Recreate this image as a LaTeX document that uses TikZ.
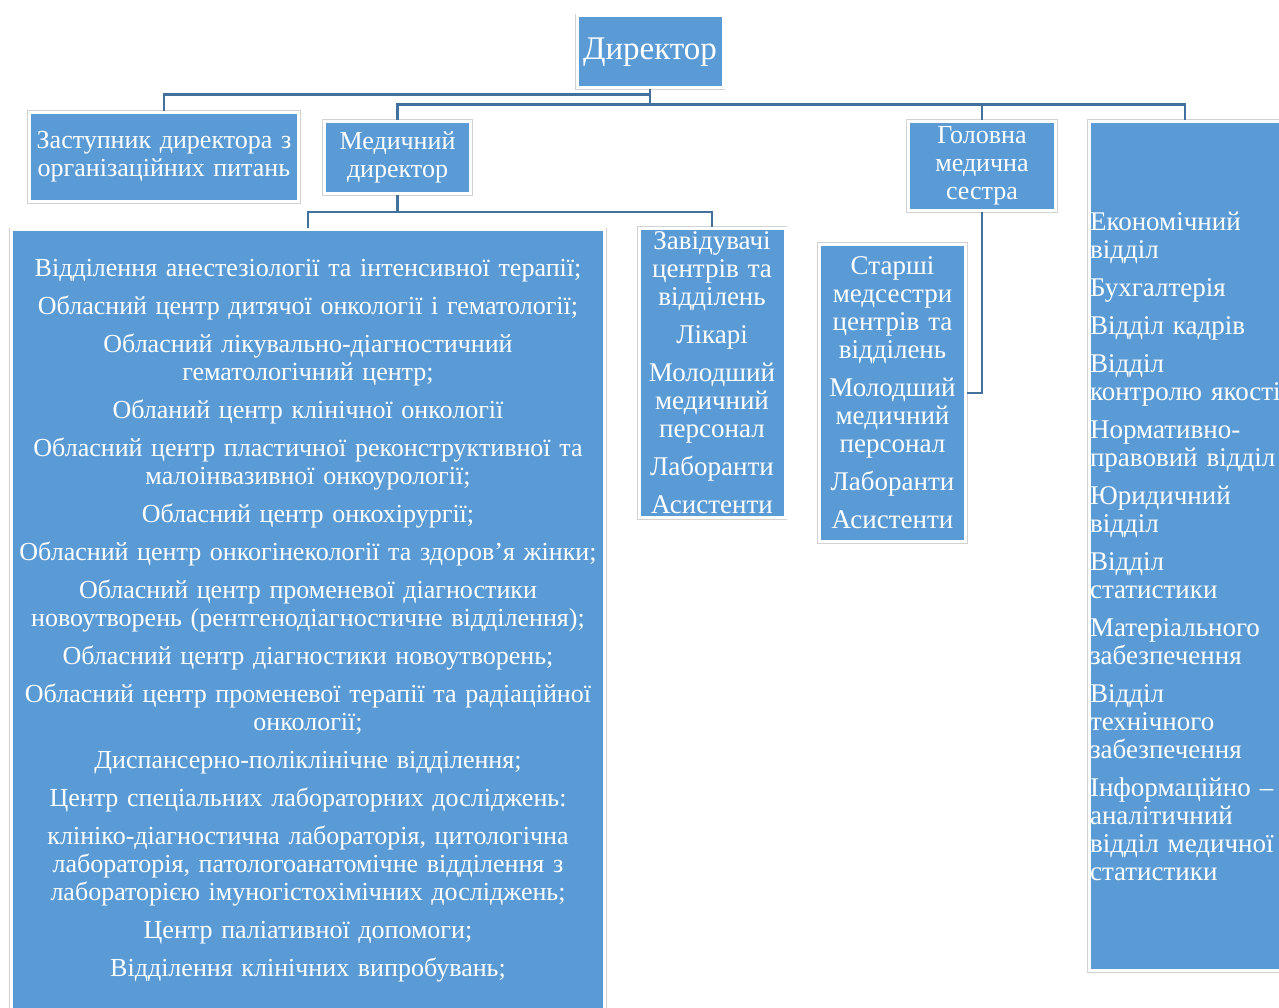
\documentclass[tikz,border=0pt]{standalone}
\usepackage{fontspec}
\setmainfont{Liberation Serif}
\definecolor{boxblau}{HTML}{5B9BD5}
\definecolor{linienblau}{HTML}{41719C}

\begin{document}
\begin{tikzpicture}[x=1pt,y=-1pt,
    every node/.style={align=center,text=white,font=\fontsize{26}{28}\selectfont},
    kasten/.style={rectangle,fill=boxblau,draw=white,line width=3pt,inner sep=1pt,
        preaction={draw=gray!35,line width=4.5pt}},
    schmal/.style={font=\fontsize{27}{28}\selectfont},
    linie/.style={draw=linienblau,line width=2.5pt}]

    \useasboundingbox (0,0) rectangle (1279,1008);
    \clip (0,0) rectangle (1279,1008);

    % Leitung
    \node[kasten,minimum width=146pt,minimum height=72pt,font=\fontsize{33}{36}\selectfont] (dir) at (650,52) {Директор};
    \node[kasten,minimum width=269pt,minimum height=89pt,text width=265pt] (zast) at (164,157) {Заступник директора з\\організаційних питань};
    \node[kasten,minimum width=146pt,minimum height=72pt,text width=142pt] (med) at (397.5,157.5) {Медичний\\директор};
    \node[kasten,minimum width=147pt,minimum height=89pt,text width=142pt] (hms) at (982,166) {Головна\\медична\\сестра};

    % Abteilungen rechts
    \node[kasten,schmal,minimum width=191pt,minimum height=849pt,text width=190pt,align=left] (oek) at (1185,546) {%
        Економічний\\відділ\\[10pt]
        Бухгалтерія\\[10pt]
        Відділ кадрів\\[10pt]
        Відділ\\контролю~якості\\[10pt]
        Нормативно-\\правовий відділ\\[10pt]
        Юридичний\\відділ\\[10pt]
        Відділ\\статистики\\[10pt]
        Матеріального\\забезпечення\\[10pt]
        Відділ\\технічного\\забезпечення\\[10pt]
        Інформаційно –\\аналітичний\\відділ медичної\\статистики};

    % Zentren und Abteilungen
    \node[kasten,minimum width=593pt,minimum height=782pt,text width=590pt] (abt) at (308,621) {%
        Відділення анестезіології та інтенсивної терапії;\\[10pt]
        Обласний центр дитячої онкології і гематології;\\[10pt]
        Обласний лікувально-діагностичний\\гематологічний центр;\\[10pt]
        Обланий центр клінічної онкології\\[10pt]
        Обласний центр пластичної реконструктивної та\\малоінвазивної онкоурології;\\[10pt]
        Обласний центр онкохірургії;\\[10pt]
        Обласний центр онкогінекології та здоров’я жінки;\\[10pt]
        Обласний центр променевої діагностики\\новоутворень (рентгенодіагностичне відділення);\\[10pt]
        Обласний центр діагностики новоутворень;\\[10pt]
        Обласний центр променевої терапії та радіаційної\\онкології;\\[10pt]
        Диспансерно-поліклінічне відділення;\\[10pt]
        Центр спеціальних лабораторних досліджень:\\[10pt]
        клініко-діагностична лабораторія, цитологічна\\лабораторія, патологоанатомічне відділення з\\лабораторією імуногістохімічних досліджень;\\[10pt]
        Центр паліативної допомоги;\\[10pt]
        Відділення клінічних випробувань;};

    % Personal
    \node[kasten,schmal,minimum width=145pt,minimum height=289pt,text width=144pt] (zav) at (712,373) {%
        Завідувачі\\центрів та\\відділень\\[10pt]
        Лікарі\\[10pt]
        Молодший\\медичний\\персонал\\[10pt]
        Лаборанти\\[10pt]
        Асистенти};
    \node[kasten,schmal,minimum width=146pt,minimum height=297pt,text width=144pt] (star) at (892.5,393) {%
        Старші\\медсестри\\центрів та\\відділень\\[10pt]
        Молодший\\медичний\\персонал\\[10pt]
        Лаборанти\\[10pt]
        Асистенти};

    % Verbindungen
    \draw[linie] (dir.south) -- ++(0,5) -| (zast.north);
    \draw[linie] (dir.south) -- ++(0,15) -| (med.north);
    \draw[linie] (dir.south) -- ++(0,15) -| (hms.north);
    \draw[linie] (dir.south) -- ++(0,15) -| (oek.north);
    \draw[linie] (med.south) -- ++(0,17) -| (abt.north);
    \draw[linie] (med.south) -- ++(0,17) -| (zav.north);
    \draw[linie] (hms.south) |- (star.east);

\end{tikzpicture}
\end{document}
